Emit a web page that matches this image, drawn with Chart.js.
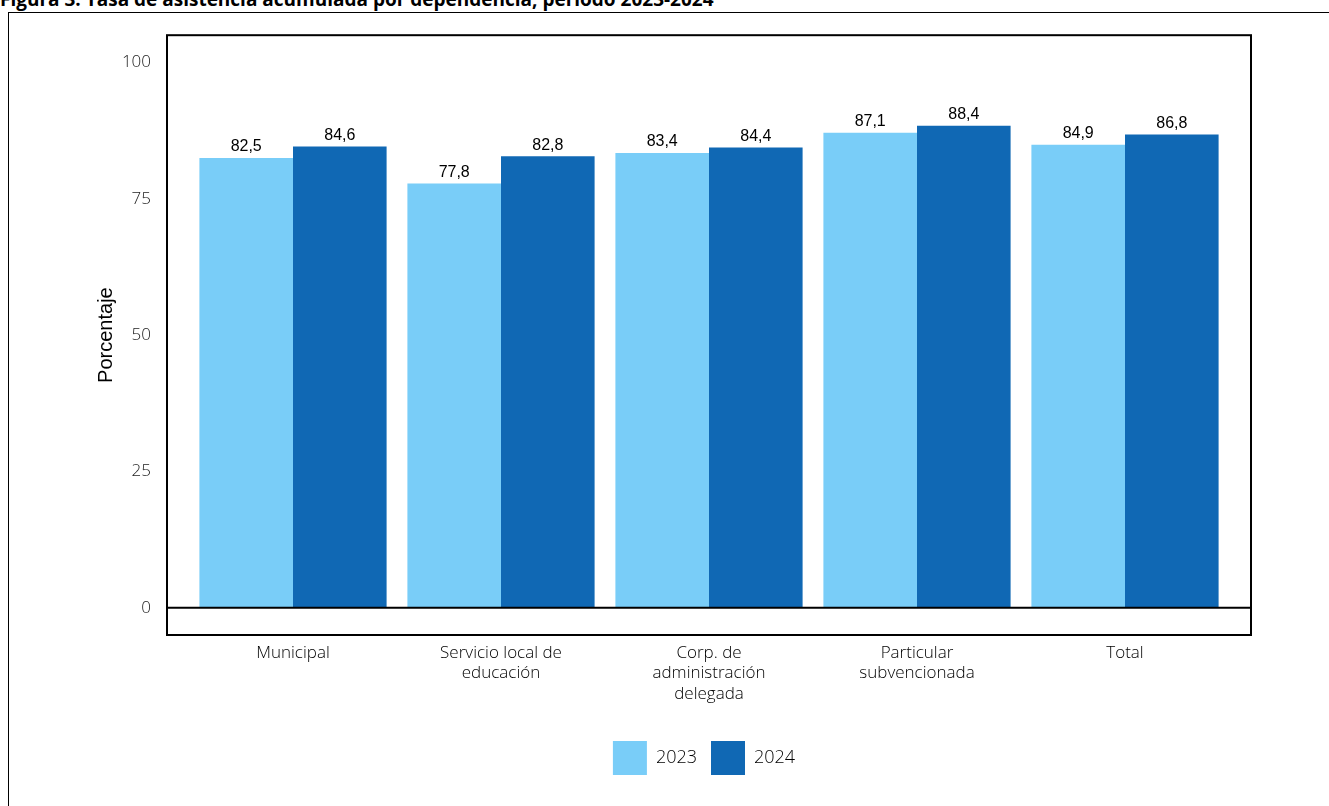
<!DOCTYPE html>
<html>
<head>
<meta charset="utf-8">
<script src="https://cdn.jsdelivr.net/npm/chart.js@4"></script>
<style>
  body { margin: 0; background: #fff; overflow: hidden; }
  #wrap { position: absolute; left: 0; top: 0; width: 1329px; height: 806px; }
  #frame { position: absolute; left: 8px; top: 12px; width: 1340px; height: 820px; border: 1px solid #000; box-sizing: border-box; }
  #title { position: absolute; left: 0; top: -14px; font: bold 19px "Open Sans", sans-serif; color: #000; white-space: nowrap; }
  #chart { position: absolute; left: 0; top: -5px; }
</style>
</head>
<body>
<div id="wrap">
  <div id="title">Figura 3. Tasa de asistencia acumulada por dependencia, periodo 2023-2024</div>
  <div id="frame"></div>
  <canvas id="chart" width="1329" height="806"></canvas>
</div>
<script>
// Data
const categories = ['Municipal', ['Servicio local de', 'educación'], ['Corp. de', 'administración', 'delegada'], ['Particular', 'subvencionada'], 'Total'];
const values2023 = [82.5, 77.8, 83.4, 87.1, 84.9];
const values2024 = [84.6, 82.8, 84.4, 88.4, 86.8];
const yTicks = [0, 25, 50, 75, 100];

const fmt = v => v.toFixed(1).replace('.', ',');
const FRAME_EXTRA = 22;

// Plot frame, zero line and value labels
const framePlugin = {
    id: 'framePlugin',
    afterLayout(chart) {
        // centre the legend under the plot area instead of the canvas
        const legend = chart.legend;
        if (!legend || legend._shifted) return;
        const orig = legend.draw;
        legend.draw = function (...args) {
            const a = chart.chartArea;
            const dx = (a.left + a.right) / 2 - chart.width / 2;
            chart.ctx.save();
            chart.ctx.translate(dx, -9);
            orig.apply(this, args);
            chart.ctx.restore();
        };
        legend._shifted = true;
    },
    afterDraw(chart) {
        const { ctx, chartArea: a } = chart;
        const y0 = chart.scales.y.getPixelForValue(0);
        ctx.save();
        ctx.strokeStyle = '#000';
        ctx.lineWidth = 2;
        ctx.strokeRect(a.left - FRAME_EXTRA, a.top, a.right - a.left + 2 * FRAME_EXTRA, a.bottom - a.top);
        ctx.beginPath();
        ctx.moveTo(a.left - FRAME_EXTRA, y0);
        ctx.lineTo(a.right + FRAME_EXTRA, y0);
        ctx.stroke();
        ctx.font = '16px "Liberation Sans", Arial, sans-serif';
        ctx.fillStyle = '#000';
        ctx.textAlign = 'center';
        ctx.textBaseline = 'bottom';
        chart.data.datasets.forEach((ds, i) => {
            chart.getDatasetMeta(i).data.forEach((bar, j) => {
                ctx.fillText(fmt(ds.data[j]), bar.x, bar.y - 3);
            });
        });
        ctx.restore();
    }
};

new Chart(document.getElementById('chart'), {
    type: 'bar',
    data: {
        labels: categories,
        datasets: [
            { label: '2023', data: values2023, backgroundColor: '#79CDF8' },
            { label: '2024', data: values2024, backgroundColor: '#1068B4' }
        ]
    },
    options: {
        responsive: false,
        animation: false,
        layout: { padding: { left: 90, right: 100, top: 25, bottom: 7 } },
        datasets: { bar: { categoryPercentage: 0.9, barPercentage: 1 } },
        scales: {
            x: {
                grid: { display: false },
                border: { display: false },
                ticks: { color: '#000', font: { family: 'Open Sans', size: 17, weight: 300 }, padding: 0, maxRotation: 0, autoSkip: false },
                afterFit(s) { s.height = 101; }
            },
            y: {
                min: -5,
                max: 105,
                afterBuildTicks(s) { s.ticks = yTicks.map(v => ({ value: v })); },
                afterFit(s) { s.width = 99; },
                border: { display: false },
                grid: { display: false },
                ticks: { color: '#222', font: { family: 'Open Sans', size: 17, weight: 300 }, padding: 30 },
                title: { display: true, text: 'Porcentaje', color: '#000', font: { family: 'Liberation Sans', size: 20 }, padding: { bottom: 0 } }
            }
        },
        plugins: {
            legend: {
                position: 'bottom',
                labels: {
                    boxWidth: 34, boxHeight: 34, padding: 14,
                    color: '#000', font: { family: 'Open Sans', size: 18, weight: 300 }
                }
            },
            tooltip: { enabled: false }
        }
    },
    plugins: [framePlugin]
});
</script>
</body>
</html>
